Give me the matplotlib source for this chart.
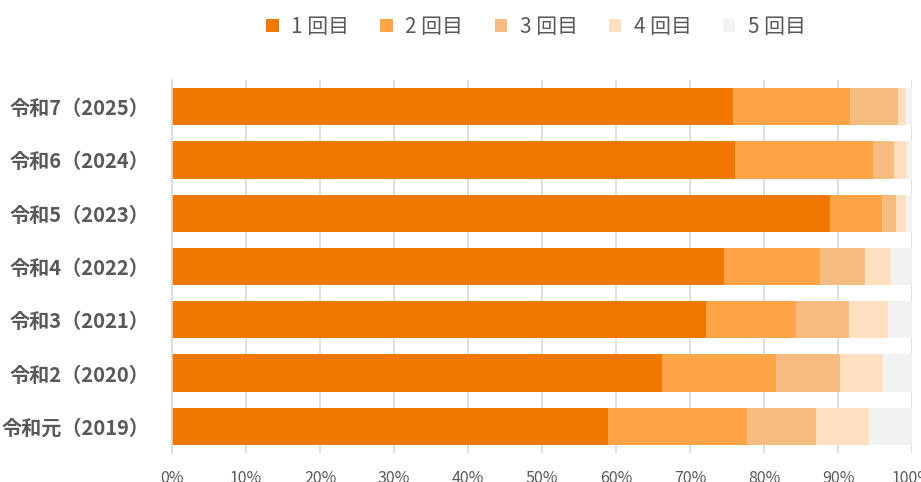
import numpy as np
import matplotlib
matplotlib.use("Agg")
import matplotlib.pyplot as plt

plt.rcParams['font.family'] = ['Noto Sans CJK JP', 'DejaVu Sans']

# 年度（上から下へ表示する順）
years = ["令和7（2025）", "令和6（2024）", "令和5（2023）", "令和4（2022）",
         "令和3（2021）", "令和2（2020）", "令和元（2019）"]
series_names = ["1 回目", "2 回目", "3 回目", "4 回目", "5 回目"]

# 割合（%）
kai1 = [75.8, 76.1, 88.9, 74.6, 72.1, 66.2, 58.9]
kai2 = [15.8, 18.6, 7.0, 13.0, 12.2, 15.4, 18.8]
kai3 = [6.5, 2.8, 1.9, 6.0, 7.2, 8.7, 9.3]
kai4 = [1.1, 1.8, 1.4, 3.5, 5.3, 5.8, 7.2]
kai5 = [0.8, 0.7, 0.8, 2.9, 3.2, 3.9, 5.8]

colors = ["#F07800", "#FFA548", "#F7BC80", "#FFE0C0", "#F2F2F2"]

fig = plt.figure(figsize=(9.21, 4.82), dpi=100)
ax = fig.add_axes([172 / 921, 1 - 453 / 482, 740 / 921, 373 / 482])

y = np.arange(len(years))
left = np.zeros(len(years))
for name, vals, c in zip(series_names, [kai1, kai2, kai3, kai4, kai5], colors):
    vals = np.array(vals)
    ax.barh(y, vals, left=left, height=0.7, color=c, label=name, zorder=2)
    left += vals

ax.set_xlim(0, 100)
ax.set_ylim(len(years) - 0.5, -0.5)
ax.set_yticks(y)
ax.set_yticklabels(years, fontsize=14.5, fontweight="bold", color="#595959")
ax.set_xticks(np.arange(0, 101, 10))
ax.set_xticklabels([f"{v}%" for v in range(0, 101, 10)], fontsize=11.5, color="#595959")
ax.tick_params(axis="y", length=0, pad=16)
ax.tick_params(axis="x", length=0, pad=12)
ax.grid(axis="x", color="#D9D9D9", linewidth=1.2, zorder=0)
for s in ["top", "right", "bottom"]:
    ax.spines[s].set_visible(False)
ax.spines["left"].set_color("#D9D9D9")
ax.spines["left"].set_linewidth(1.2)

handles, labels = ax.get_legend_handles_labels()
fig.legend(handles, labels, loc="center", bbox_to_anchor=(536 / 921, 1 - 27 / 482),
           ncol=5, frameon=False, fontsize=15, labelcolor="#595959",
           handlelength=0.6, handleheight=0.6, handletextpad=0.6, columnspacing=1.5)

fig.savefig("out.png", dpi=100)
